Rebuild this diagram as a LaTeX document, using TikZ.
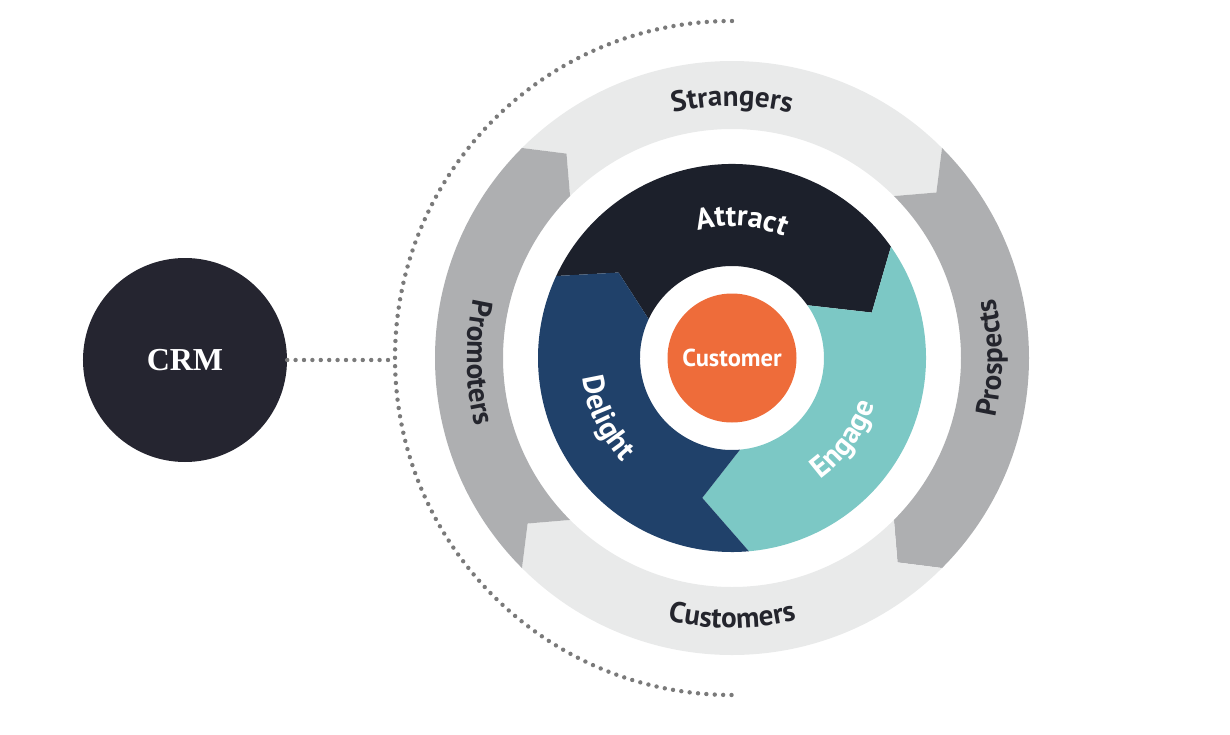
\documentclass[tikz,border=0pt]{standalone}
\usepackage{fontspec}
\setsansfont{PT Sans}
\newfontfamily\crmfont{Liberation Serif}
\usetikzlibrary{decorations.text}

\definecolor{ringlight}{HTML}{E9EAEA}
\definecolor{ringdark}{HTML}{AEAFB1}
\definecolor{attractcol}{HTML}{1C202B}
\definecolor{engagecol}{HTML}{7CC8C5}
\definecolor{delightcol}{HTML}{20416A}
\definecolor{customercol}{HTML}{EE6C3A}
\definecolor{crmcol}{HTML}{252530}
\definecolor{labeldark}{HTML}{24252D}
\definecolor{dotcol}{HTML}{7A7A7A}

\tikzset{
  stagelabel/.style={decorate, decoration={text along path, text align=center,
      text color=labeldark, text={|\sffamily\bfseries\fontsize{29}{31}\selectfont|#1}}},
  cyclelabel/.style={decorate, decoration={text along path, text align=center,
      text color=white, text={|\sffamily\bfseries\fontsize{30}{32}\selectfont|#1}}},
  dotline/.style={dotcol, line width=4.4pt, line cap=round, dash pattern=on 0pt off 8.4pt},
}

\begin{document}
\begin{tikzpicture}[x=1pt,y=1pt]
\useasboundingbox (-732,-376) rectangle (498,358);

% outer ring: strangers, prospects, customers, promoters
\foreach \a/\c in {135/ringlight,45/ringdark,-45/ringlight,225/ringdark}
  \fill[\c] ({\a}:297) arc[start angle=\a, end angle=\a-90, radius=297]
    -- ({\a-96}:263) -- ({\a-90}:229) arc[start angle=\a-90, end angle=\a, radius=229]
    -- ({\a-6}:263) -- cycle;

% inner cycle
\fill[attractcol] (155:194) arc[start angle=155, end angle=35, radius=194]
  -- (18:147) -- (35:92) arc[start angle=35, end angle=155, radius=92] -- (143:142) -- cycle;
\fill[engagecol] (35:194) arc[start angle=35, end angle=-85, radius=194]
  -- (-102:143) -- (-85:92) arc[start angle=-85, end angle=35, radius=92] -- (18:147) -- cycle;
\fill[delightcol] (275:194) arc[start angle=275, end angle=155, radius=194]
  -- (143:142) -- (155:92) arc[start angle=155, end angle=275, radius=92] -- (258:143) -- cycle;

\node[circle, fill=customercol, minimum size=129, text=white,
  font=\sffamily\bfseries\fontsize{24.5}{26}\selectfont] (customer) at (0,0) {Customer};

% curved labels
\path[stagelabel=Strangers] (150:252) arc[start angle=150, end angle=30, radius=252];
\path[stagelabel=Prospects] (-60:270) arc[start angle=-60, end angle=60, radius=270];
\path[stagelabel=Customers] (-150:270) arc[start angle=-150, end angle=-30, radius=270];
\path[stagelabel=Promoters] (121:265) arc[start angle=121, end angle=241, radius=265];

\path[cyclelabel=Attract] (146:132) arc[start angle=146, end angle=26, radius=132];
\path[cyclelabel=Engage] (-96:150) arc[start angle=-96, end angle=24, radius=150];
\path[cyclelabel=Delight] (145.5:151) arc[start angle=145.5, end angle=265.5, radius=151];

% crm
\node[circle, fill=crmcol, minimum size=204, text=white,
  font=\crmfont\bfseries\fontsize{32}{34}\selectfont] (crm) at (-547,-2) {CRM};
\coordinate (hub) at (-337,-2);
\draw[dotline] (90:337) arc[start angle=90, end angle=270, radius=337];
\draw[dotline] (crm.east) -- (hub);

\end{tikzpicture}
\end{document}
